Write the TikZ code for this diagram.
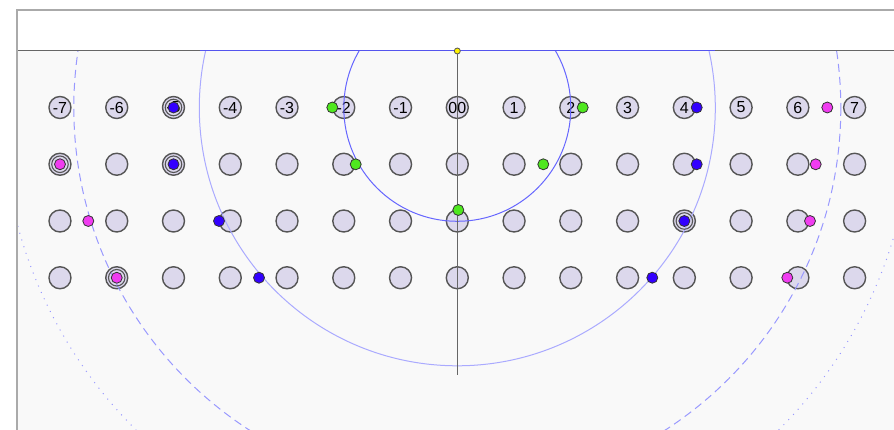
\documentclass[tikz,border=0pt]{standalone}
\usepackage{fontspec}
\setmainfont{Liberation Sans}
\definecolor{framegray}{HTML}{AAAAAA}
\definecolor{fieldbg}{HTML}{F9F9F9}
\definecolor{slotfill}{HTML}{DCD8EC}
\definecolor{slotedge}{HTML}{555555}
\definecolor{dotedge}{HTML}{333333}
\definecolor{dblue}{HTML}{3300FF}
\definecolor{dmag}{HTML}{F03CF0}
\definecolor{dgreen}{HTML}{4FE81F}
\definecolor{arcA}{HTML}{6666FF}
\definecolor{arcB}{HTML}{AAAAFF}
\definecolor{arcC}{HTML}{9999FF}
\definecolor{axisgray}{HTML}{666666}
\definecolor{topblue}{HTML}{5555EE}
\begin{document}
\begin{tikzpicture}[x=1pt,y=-1pt,
  slot/.style={circle, draw=slotedge, line width=1.4pt, fill=slotfill, minimum size=22pt, inner sep=0pt},
  slotlabel/.style={font=\fontsize{16}{16}\selectfont, inner sep=0pt},
  ringmark/.style={circle, draw=slotedge, line width=1.1pt, minimum size=16.5pt, inner sep=0pt},
  dotmark/.style={circle, draw=dotedge, line width=0.8pt, minimum size=11pt, inner sep=0pt},
  bluedot/.style={dotmark, fill=dblue},
  magdot/.style={dotmark, fill=dmag},
  greendot/.style={dotmark, fill=dgreen},
  arcsmall/.style={draw=arcA, line width=1pt},
  arcbig/.style={draw=arcB, line width=1pt},
  arcdash/.style={draw=arcC, line width=1pt, dash pattern=on 8pt off 5pt},
  arcdot/.style={draw=arcC, line width=1pt, dash pattern=on 1pt off 6pt}
]
\useasboundingbox (0,0) rectangle (894,430);
\fill[white] (0,0) rectangle (894,430);
% frame
\fill[white] (17,10) rectangle (900,51);
\fill[fieldbg] (17,51) rectangle (900,440);
\draw[framegray, line width=2.2pt] (17,440) -- (17,10) -- (900,10);
% slots
\foreach \i in {0,...,14}{
  \foreach \j in {1,...,4}{
    \node[slot] (s\i-\j) at ({457.3+56.76*(\i-7)},{107.5+56.75*(\j-1)}) {};
  }
}
% row 1 labels
\foreach \i/\t in {0/-7,1/-6,2/-5,3/-4,4/-3,5/-2,6/-1,7/00,8/1,9/2,10/3,11/4,12/5,13/6,14/7}{
  \node[slotlabel] (l\i) at (s\i-1) {\t};
}
% field arcs
\coordinate (ctr) at (457.3,107.8);
\begin{scope}
  \clip (18,51) rectangle (900,440);
  \draw[arcsmall] (ctr) circle[radius=113.5];
  \draw[arcbig] (ctr) circle[radius=258];
  \draw[arcdash] (ctr) circle[radius=383.5];
  \draw[arcdot] (ctr) circle[radius=455];
\end{scope}
% top line and axis
\coordinate (tl) at (18,51);
\coordinate (tr) at (894,51);
\coordinate (bl) at (199.5,51);
\coordinate (br) at (715,51);
\draw[axisgray, line width=1pt] (tl) -- (tr);
\draw[topblue, line width=1pt] (bl) -- (br);
\node[circle, fill=yellow, draw=slotedge, line width=0.8pt, minimum size=6pt, inner sep=0pt] (origin) at (457.3,51) {};
\coordinate (axisend) at (457.3,375);
\draw[axisgray, line width=1.6pt] (origin) -- (axisend);
% rings
\node[ringmark] (r1) at (s2-1) {};
\node[ringmark] (r2) at (s0-2) {};
\node[ringmark] (r3) at (s2-2) {};
\node[ringmark] (r4) at (s11-3) {};
\node[ringmark] (r5) at (s1-4) {};
% dots row 1
\node[bluedot] (d1) at (s2-1) {};
\node[greendot] (d2) at (332.3,107.5) {};
\node[greendot] (d3) at (582.7,107.5) {};
\node[bluedot] (d4) at (696.7,107.5) {};
\node[magdot] (d5) at (827.3,107.5) {};
% row 2
\node[magdot] (d6) at (s0-2) {};
\node[bluedot] (d7) at (s2-2) {};
\node[greendot] (d8) at (355.7,164.3) {};
\node[greendot] (d9) at (543.3,164.3) {};
\node[bluedot] (d10) at (696.7,164.3) {};
\node[magdot] (d11) at (815.7,164.3) {};
% row 3
\node[magdot] (d12) at (88.3,221) {};
\node[bluedot] (d13) at (219,221) {};
\node[greendot] (d14) at (458.3,210) {};
\node[bluedot] (d15) at (s11-3) {};
\node[magdot] (d16) at (810,221) {};
% row 4
\node[magdot] (d17) at (s1-4) {};
\node[bluedot] (d18) at (259,277.7) {};
\node[bluedot] (d19) at (652.3,277.7) {};
\node[magdot] (d20) at (787.3,277.7) {};
\end{tikzpicture}
\end{document}
